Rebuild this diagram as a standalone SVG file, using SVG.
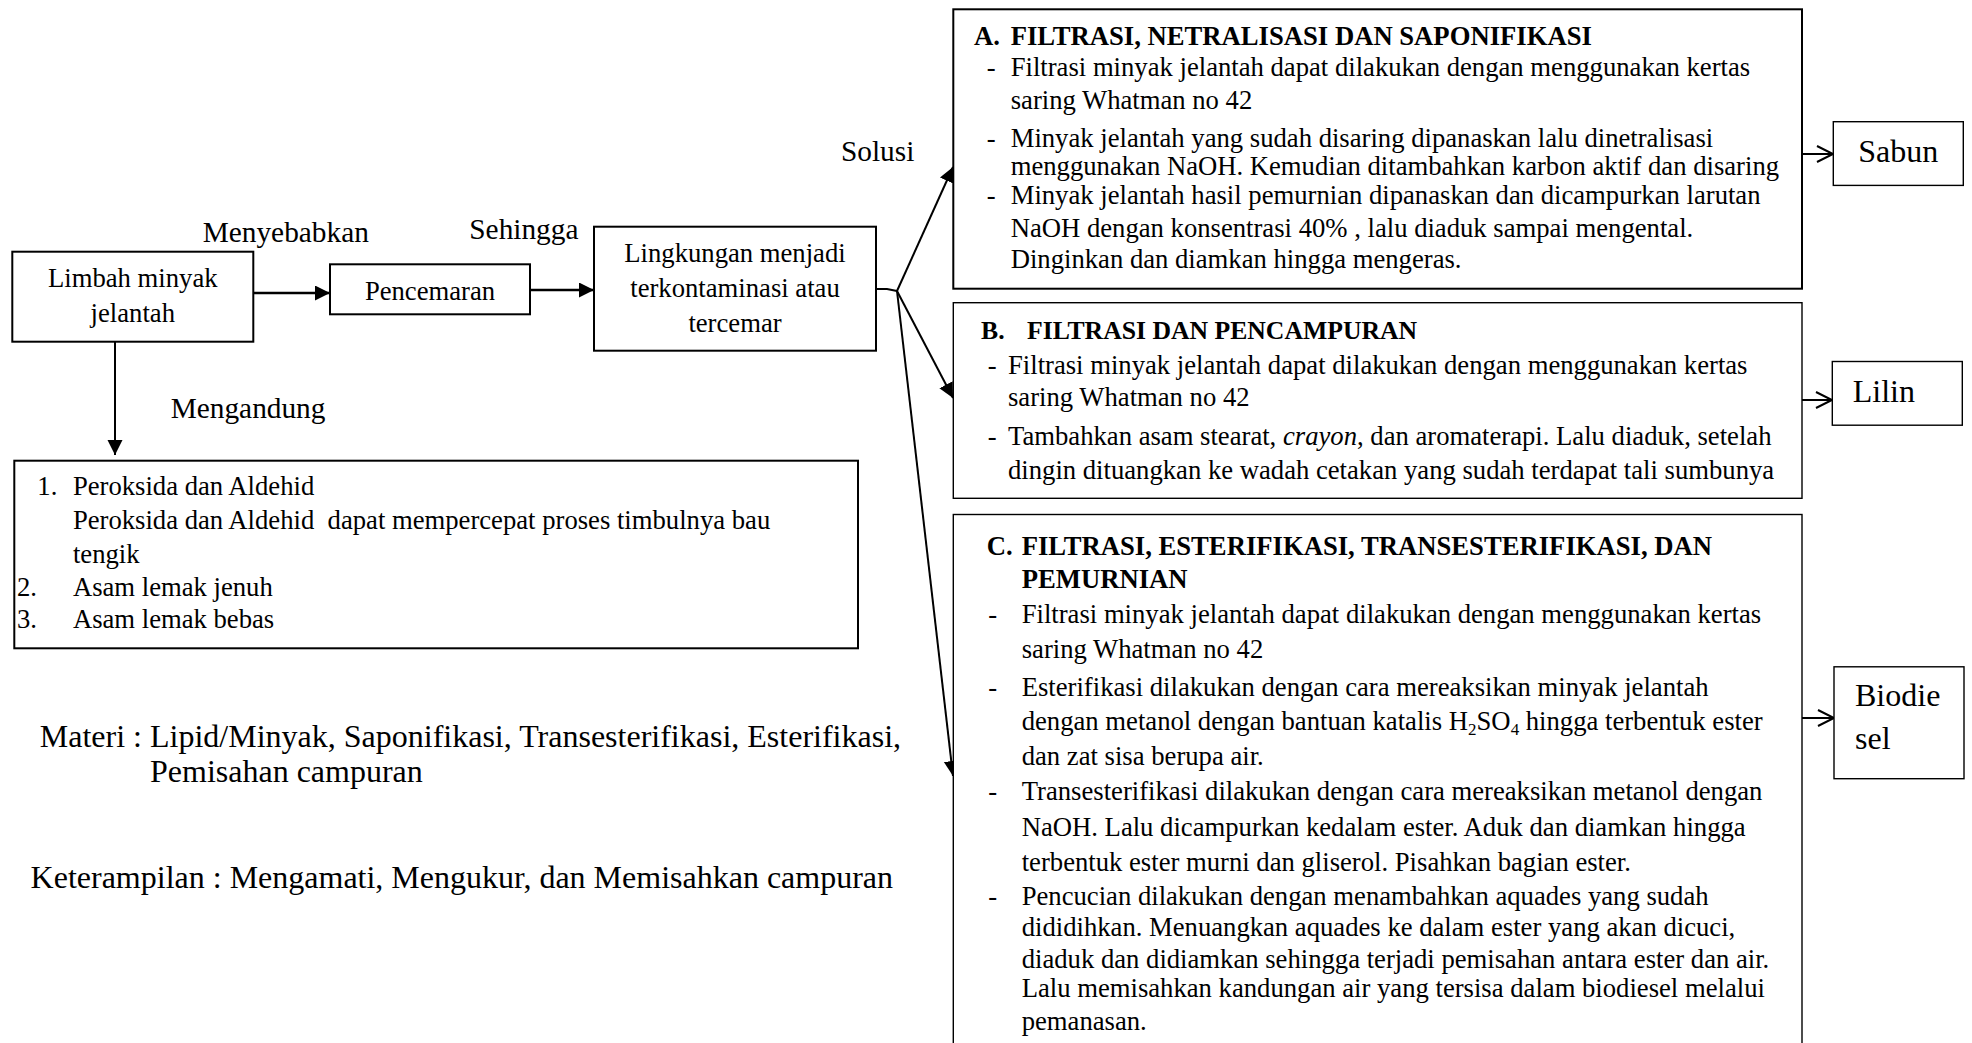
<svg xmlns="http://www.w3.org/2000/svg" width="1972" height="1043" viewBox="0 0 1972 1043">
<style>
text{font-family:"Liberation Serif","Times New Roman",serif;fill:#000;font-size:26.67px}
.lbl{font-size:29.33px}
.big{font-size:32px}
.b{font-weight:bold}
.bt{font-size:25.7px}
.mid{text-anchor:middle}
.box{fill:#fff;stroke:#000;stroke-width:2}
.thin{stroke-width:1.4}
.conn{stroke:#000;stroke-width:2;fill:none}
.thick{stroke-width:2.6}
.sub{font-size:17px}
</style>
<defs>
<marker id="tri" markerWidth="17" markerHeight="16" refX="15" refY="7.5" orient="auto" markerUnits="userSpaceOnUse"><path d="M0,0 L15,7.5 L0,15 z" fill="#000"/></marker>
<marker id="open" markerWidth="20" markerHeight="20" refX="17" refY="9" orient="auto" markerUnits="userSpaceOnUse"><path d="M1,1 L17,9 L1,17" fill="none" stroke="#000" stroke-width="2"/></marker>
</defs>
<rect width="1972" height="1043" fill="#fff"/>

<g id="connectors">
<line class="conn thick" x1="253" y1="293" x2="330" y2="293" marker-end="url(#tri)"/>
<line class="conn thick" x1="530" y1="290" x2="594" y2="290" marker-end="url(#tri)"/>
<line class="conn" x1="115" y1="342" x2="115" y2="455" marker-end="url(#tri)"/>
<polyline class="conn" points="876,289 887,289 897,291"/>
<line class="conn" x1="897" y1="291" x2="953" y2="167" marker-end="url(#tri)"/>
<line class="conn" x1="897" y1="291" x2="953" y2="398" marker-end="url(#tri)"/>
<line class="conn" x1="897" y1="291" x2="953" y2="776" marker-end="url(#tri)"/>
<line class="conn" x1="1802" y1="154" x2="1833" y2="154" marker-end="url(#open)"/>
<line class="conn" x1="1802" y1="400" x2="1832" y2="400" marker-end="url(#open)"/>
<line class="conn" x1="1802" y1="718" x2="1834" y2="718" marker-end="url(#open)"/>
<text class="lbl" x="202.7" y="242">Menyebabkan</text>
<text class="lbl" x="469.3" y="238.5">Sehingga</text>
<text class="lbl" x="841" y="161">Solusi</text>
<text class="lbl" x="170.7" y="418">Mengandung</text>
</g>

<g id="limbah">
<rect class="box" x="12.3" y="251.7" width="241" height="90"/>
<text class="mid" x="132.8" y="287">Limbah minyak</text>
<text class="mid" x="132.8" y="322">jelantah</text>
</g>

<g id="pencemaran">
<rect class="box" x="330" y="264.3" width="200" height="50"/>
<text class="mid" x="430" y="299.5">Pencemaran</text>
</g>

<g id="lingkungan">
<rect class="box" x="594" y="226.7" width="282" height="124"/>
<text class="mid" x="735" y="261.7">Lingkungan menjadi</text>
<text class="mid" x="735" y="296.7">terkontaminasi atau</text>
<text class="mid" x="735" y="331.7">tercemar</text>
</g>

<g id="kandungan">
<rect class="box" x="14.3" y="460.7" width="843.7" height="187.6"/>
<text x="37.3" y="495">1.</text>
<text x="72.9" y="495">Peroksida dan Aldehid</text>
<text x="72.9" y="529">Peroksida dan Aldehid&#160; dapat mempercepat proses timbulnya bau</text>
<text x="72.9" y="563">tengik</text>
<text x="17" y="596">2.</text>
<text x="72.9" y="596">Asam lemak jenuh</text>
<text x="17" y="628">3.</text>
<text x="72.9" y="628">Asam lemak bebas</text>
</g>

<g id="keterangan">
<text class="big" x="39.8" y="747">Materi : Lipid/Minyak, Saponifikasi, Transesterifikasi, Esterifikasi,</text>
<text class="big" x="150" y="782">Pemisahan campuran</text>
<text class="big" x="30.6" y="888">Keterampilan : Mengamati, Mengukur, dan Memisahkan campuran</text>
</g>

<g id="solusi-a">
<rect class="box" x="953.3" y="9.3" width="848.7" height="279.4"/>
<text class="b" x="974" y="45">A.</text>
<text class="b" x="1010.7" y="45">FILTRASI, NETRALISASI DAN SAPONIFIKASI</text>
<text x="986.7" y="76">-</text>
<text x="1010.7" y="76">Filtrasi minyak jelantah dapat dilakukan dengan menggunakan kertas</text>
<text x="1010.7" y="109">saring Whatman no 42</text>
<text x="986.7" y="146.7">-</text>
<text x="1010.7" y="146.7">Minyak jelantah yang sudah disaring dipanaskan lalu dinetralisasi</text>
<text x="1010.7" y="175">menggunakan NaOH. Kemudian ditambahkan karbon aktif dan disaring</text>
<text x="986.7" y="204">-</text>
<text x="1010.7" y="204">Minyak jelantah hasil pemurnian dipanaskan dan dicampurkan larutan</text>
<text x="1010.7" y="236.7">NaOH dengan konsentrasi 40% , lalu diaduk sampai mengental.</text>
<text x="1010.7" y="268.3">Dinginkan dan diamkan hingga mengeras.</text>
</g>

<g id="solusi-b">
<rect class="box thin" x="953.3" y="302.7" width="848.7" height="195.6"/>
<text class="b bt" x="981" y="339">B.</text>
<text class="b bt" x="1027" y="339">FILTRASI DAN PENCAMPURAN</text>
<text x="987.7" y="374">-</text>
<text x="1008" y="374">Filtrasi minyak jelantah dapat dilakukan dengan menggunakan kertas</text>
<text x="1008" y="406">saring Whatman no 42</text>
<text x="987.7" y="445">-</text>
<text x="1008" y="445">Tambahkan asam stearat, <tspan font-style="italic">crayon</tspan>, dan aromaterapi. Lalu diaduk, setelah</text>
<text x="1008" y="479">dingin dituangkan ke wadah cetakan yang sudah terdapat tali sumbunya</text>
</g>

<g id="solusi-c">
<rect class="box thin" x="953.3" y="514.5" width="848.7" height="540"/>
<text class="b" x="986.7" y="555.4">C.</text>
<text class="b" x="1021.7" y="555.4">FILTRASI, ESTERIFIKASI, TRANSESTERIFIKASI, DAN</text>
<text class="b" x="1021.7" y="588.3">PEMURNIAN</text>
<text x="988.3" y="622.9">-</text>
<text x="1021.7" y="622.9">Filtrasi minyak jelantah dapat dilakukan dengan menggunakan kertas</text>
<text x="1021.7" y="657.6">saring Whatman no 42</text>
<text x="988.3" y="695.6">-</text>
<text x="1021.7" y="695.6">Esterifikasi dilakukan dengan cara mereaksikan minyak jelantah</text>
<text x="1021.7" y="730.3">dengan metanol dengan bantuan katalis H<tspan class="sub" dy="5">2</tspan><tspan dy="-5">SO</tspan><tspan class="sub" dy="5">4</tspan><tspan dy="-5"> hingga terbentuk ester</tspan></text>
<text x="1021.7" y="764.9">dan zat sisa berupa air.</text>
<text x="988.3" y="799.5">-</text>
<text x="1021.7" y="799.5">Transesterifikasi dilakukan dengan cara mereaksikan metanol dengan</text>
<text x="1021.7" y="835.9">NaOH. Lalu dicampurkan kedalam ester. Aduk dan diamkan hingga</text>
<text x="1021.7" y="870.5">terbentuk ester murni dan gliserol. Pisahkan bagian ester.</text>
<text x="988.3" y="905.1">-</text>
<text x="1021.7" y="905.1">Pencucian dilakukan dengan menambahkan aquades yang sudah</text>
<text x="1021.7" y="936.3">dididihkan. Menuangkan aquades ke dalam ester yang akan dicuci,</text>
<text x="1021.7" y="967.5">diaduk dan didiamkan sehingga terjadi pemisahan antara ester dan air.</text>
<text x="1021.7" y="996.9">Lalu memisahkan kandungan air yang tersisa dalam biodiesel melalui</text>
<text x="1021.7" y="1029.8">pemanasan.</text>
</g>

<g id="sabun">
<rect class="box thin" x="1833.3" y="121.7" width="130" height="63.7"/>
<text class="big mid" x="1898.3" y="162">Sabun</text>
</g>

<g id="lilin">
<rect class="box thin" x="1832.3" y="361.5" width="130" height="63.7"/>
<text class="big" x="1852.7" y="401.5">Lilin</text>
</g>

<g id="biodiesel">
<rect class="box thin" x="1834" y="666.8" width="130" height="111.9"/>
<text class="big" x="1855" y="706">Biodie</text>
<text class="big" x="1855" y="749">sel</text>
</g>
</svg>
